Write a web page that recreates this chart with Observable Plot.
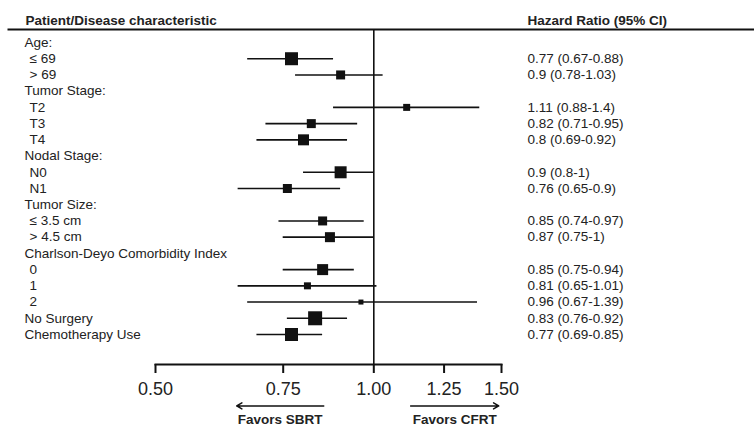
<!DOCTYPE html>
<html>
<head>
<meta charset="utf-8">
<script src="https://cdn.jsdelivr.net/npm/d3@7"></script>
<script src="https://cdn.jsdelivr.net/npm/@observablehq/plot@0.6"></script>
<style>
  html, body { margin: 0; padding: 0; background: #fff; }
  svg { display: block; }
</style>
</head>
<body>
<div id="chart"></div>
<script>
// ---- data ----
const labels = ["Age:", "≤ 69", "> 69", "Tumor Stage:", "T2", "T3", "T4", "Nodal Stage:", "N0", "N1",
  "Tumor Size:", "≤ 3.5 cm", "> 4.5 cm", "Charlson-Deyo Comorbidity Index", "0", "1", "2",
  "No Surgery", "Chemotherapy Use"];
const isSub = [false, true, true, false, true, true, true, false, true, true,
  false, true, true, false, true, true, true, false, false];
const hr =   [null, 0.77, 0.9,  null, 1.11, 0.82, 0.8,  null, 0.9, 0.76, null, 0.85, 0.87, null, 0.85, 0.81, 0.96, 0.83, 0.77];
const low =  [null, 0.67, 0.78, null, 0.88, 0.71, 0.69, null, 0.8, 0.65, null, 0.74, 0.75, null, 0.75, 0.65, 0.67, 0.76, 0.69];
const high = [null, 0.88, 1.03, null, 1.4,  0.95, 0.92, null, 1,   0.9,  null, 0.97, 1,    null, 0.94, 1.01, 1.39, 0.92, 0.85];
const weights = [null, 13, 9, null, 7, 9, 11, null, 12, 9, null, 9, 10, null, 11, 7, 5, 14, 13];
const headers = ["Patient/Disease characteristic", "Hazard Ratio (95% CI)"];
const tickValues = [0.5, 0.75, 1, 1.25, 1.5];
const favors = [
  {label: "Favors SBRT", from: 0.853, to: 0.647},
  {label: "Favors CFRT", from: 1.124, to: 1.487}
];

const rows = labels.map((label, i) => ({
  i, label, sub: isSub[i], hr: hr[i], lo: low[i], hi: high[i], w: weights[i],
  txt: hr[i] == null ? null : `${hr[i]} (${low[i]}-${high[i]})`
}));
const est = rows.filter(d => d.hr != null);

const ink = "#111";
const textInk = "#222";
const font = "Liberation Sans, Arial, Helvetica, sans-serif";

const chart = Plot.plot({
  width: 754,
  height: 435,
  marginLeft: 155,
  marginRight: 253,
  marginTop: 29,
  marginBottom: 71,
  style: {fontFamily: font, color: textInk, background: "#fff"},
  x: {type: "log", domain: [0.5, 1.5]},
  y: {type: "linear", domain: [0, labels.length - 1], range: [42, 334], axis: null},
  r: {type: "linear", domain: [0, 14], range: [0, 14 / Math.sqrt(Math.PI)]},
  marks: [
    // header rule
    Plot.frame({anchor: "top", stroke: ink, strokeWidth: 2, insetLeft: -147, insetRight: -253}),
    // header texts
    Plot.text([headers[0]], {frameAnchor: "top-left", text: d => d, dx: -130, dy: -14, textAnchor: "start",
      fontWeight: "bold", fontSize: 13.5, fill: textInk}),
    Plot.text([headers[1]], {frameAnchor: "top-right", text: d => d, dx: 26, dy: -14, textAnchor: "start",
      fontWeight: "bold", fontSize: 13.5, fill: textInk}),
    // reference line at HR = 1
    Plot.ruleX([1], {stroke: ink, strokeWidth: 1.6}),
    // axis line
    Plot.frame({anchor: "bottom", stroke: ink, strokeWidth: 2}),
    Plot.axisX({ticks: tickValues, tickFormat: d3.format(".2f"), tickSize: 9, tickPadding: 9,
      fontSize: 18, label: null, anchor: "bottom", stroke: ink, strokeWidth: 2, fill: textInk}),
    // category labels
    Plot.text(rows.filter(d => !d.sub), {y: "i", text: "label", frameAnchor: "left", dx: -131,
      textAnchor: "start", fontSize: 13.5, fill: textInk}),
    Plot.text(rows.filter(d => d.sub), {y: "i", text: "label", frameAnchor: "left", dx: -126,
      textAnchor: "start", fontSize: 13.5, fill: textInk}),
    // confidence intervals
    Plot.ruleY(est, {y: "i", x1: "lo", x2: "hi", stroke: ink, strokeWidth: 1.6}),
    // point estimates
    Plot.dot(est, {x: "hr", y: "i", r: "w", symbol: "square", fill: ink, stroke: null}),
    // HR text
    Plot.text(est, {y: "i", text: "txt", frameAnchor: "right", dx: 26, textAnchor: "start",
      fontSize: 13.5, fill: textInk}),
    // favors arrows
    Plot.arrow(favors, {x1: "from", x2: "to", y1: () => labels.length + 3.4, y2: () => labels.length + 3.4,
      stroke: ink, strokeWidth: 1.5, headLength: 6}),
    Plot.text(favors, {x: d => Math.sqrt(d.from * d.to), frameAnchor: "bottom", dy: 59, text: "label",
      fontWeight: "bold", fontSize: 13.5, fill: textInk})
  ]
});
document.getElementById("chart").appendChild(chart);
</script>
</body>
</html>
